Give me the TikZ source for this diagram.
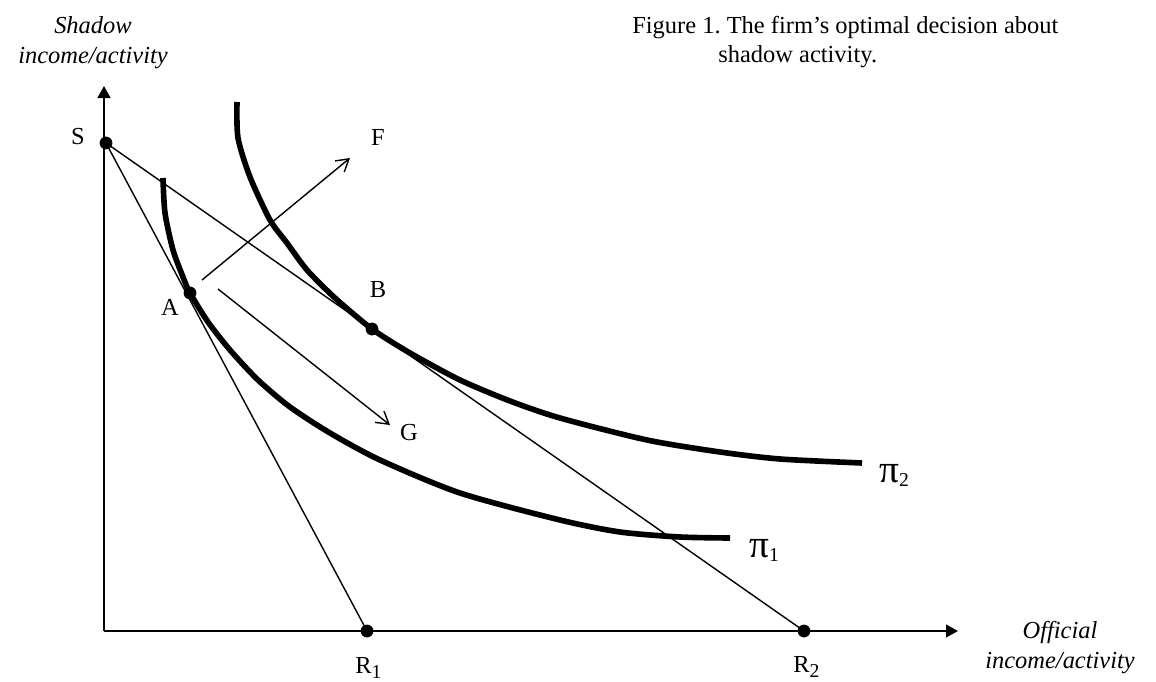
\documentclass[tikz,border=0pt]{standalone}
\usepackage{fontspec}
\setmainfont{Liberation Serif}
\usetikzlibrary{arrows.meta,positioning}
\newcommand{\lowsub}[2][0.13cm]{\raisebox{-#1}{\fontsize{14pt}{14pt}\selectfont #2}}
\frenchspacing

\begin{document}
\begin{tikzpicture}[x=0.025cm,y=-0.025cm,
  font=\fontsize{17.4pt}{21.3pt}\selectfont,
  axis/.style={line width=1.4pt,-{Triangle[length=0.3cm,width=0.32cm]}},
  budget/.style={line width=1pt},
  shiftarr/.style={line width=1pt,-{Straight Barb[length=0.3cm,width=0.36cm]}},
  isoprofit/.style={line width=4pt,line join=round,smooth,tension=0.45},
  dot/.style={circle,fill,inner sep=0pt,minimum size=0.32cm},
  lbl/.style={inner sep=0pt,anchor=base},
  axlbl/.style={inner sep=0pt,anchor=north,align=center,
    font=\fontsize{17.4pt}{21.3pt}\selectfont\itshape}]

  \useasboundingbox (0,0) rectangle (1156,682);

  % axes
  \coordinate (O) at (104,631);
  \coordinate (ytip) at (104,86);
  \coordinate (xtip) at (958,631);
  \draw[axis] (O) -- (ytip);
  \draw[axis] (O) -- (xtip);
  \node[axlbl] (ylab) at (93,16) {Shadow\\income/activity};
  \node[axlbl] (xlab) at (1060,621) {Official\\income/activity};

  \node[inner sep=0pt,anchor=north west,align=left] (title) at (632,15.5)
    {Figure 1. The firm’s optimal decision about\\\hspace*{2.15cm}shadow activity.};

  % points
  \node[dot] (S) at (106,143) {};
  \node[dot] (A) at (190,293) {};
  \node[dot] (B) at (372,329) {};
  \node[dot] (R1) at (367,631) {};
  \node[dot] (R2) at (804,631) {};

  \draw[budget] (S.center) -- (R1.center);
  \draw[budget] (S.center) -- (R2.center);

  % iso-profit curves
  \draw[isoprofit] plot coordinates {(163,178) (165,213) (173,250) (183,277)
    (190,293) (208,322) (230,350) (258,380) (290,407) (330,433) (380,460)
    (460,493) (560,520) (620,532) (680,537) (730,538)};
  \draw[isoprofit] plot coordinates {(237,102) (238,138) (250,177) (270,220)
    (287,243) (307,270) (335,298) (372,329) (410,353) (460,380) (510,401)
    (560,418) (647,440) (720,452) (780,459) (862,463)};

  % shift arrows
  \coordinate (Fstart) at (202,280);
  \coordinate (Fend) at (350,158);
  \coordinate (Gstart) at (218,289);
  \coordinate (Gend) at (390,425);
  \draw[shiftarr] (Fstart) -- (Fend);
  \draw[shiftarr] (Gstart) -- (Gend);

  % labels
  \node[lbl] (Slbl) at (78,145) {S};
  \node[lbl] (Albl) at (170,315) {A};
  \node[lbl] (Blbl) at (378,298) {B};
  \node[lbl] (Flbl) at (378,146) {F};
  \node[lbl] (Glbl) at (409,440) {G};
  \node[lbl,anchor=base west] (R1lbl) at (355,673) {R\lowsub{1}};
  \node[lbl,anchor=base west] (R2lbl) at (793,672) {R\lowsub{2}};
  \node[lbl,anchor=base west,font=\fontsize{28pt}{28pt}\selectfont] (pi1lbl)
    at (749,557) {π\lowsub[0.1cm]{1}};
  \node[lbl,anchor=base west,font=\fontsize{28pt}{28pt}\selectfont] (pi2lbl)
    at (879,482) {π\lowsub[0.1cm]{2}};
\end{tikzpicture}
\end{document}
